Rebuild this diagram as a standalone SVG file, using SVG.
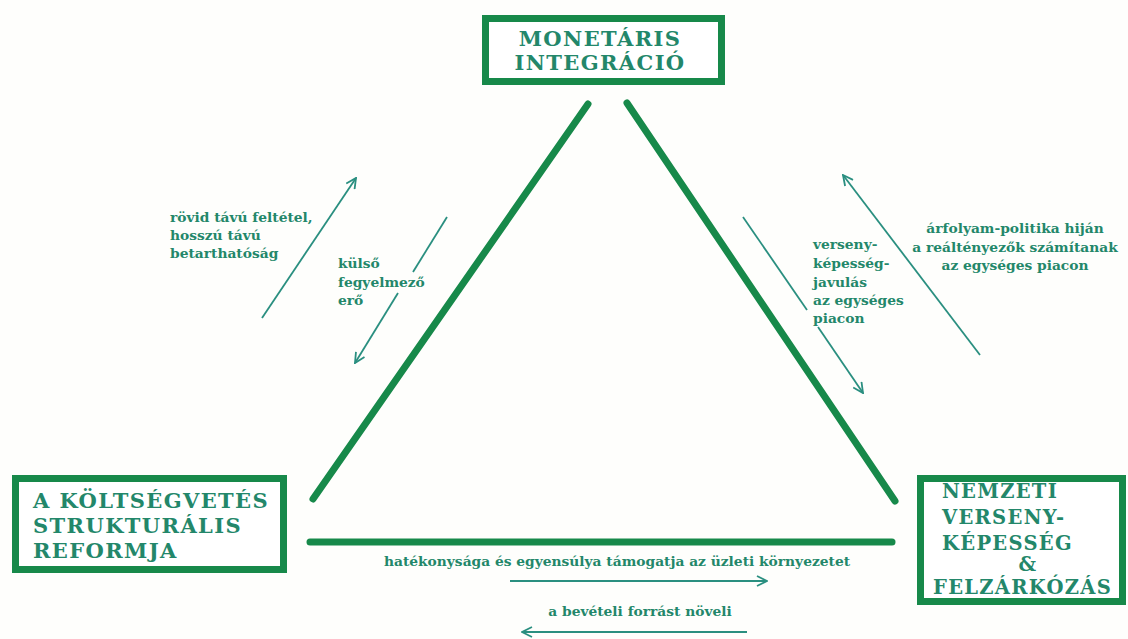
<svg xmlns="http://www.w3.org/2000/svg" width="1128" height="639" viewBox="0 0 1128 639">
<defs>
<style>
.box{fill:#fff;stroke:#17894a;stroke-width:7}
.big{stroke:#17894a;stroke-width:7;stroke-linecap:round;fill:none}
.thin{stroke:#2a8f80;stroke-width:1.8;fill:none}
.bt{font-family:"DejaVu Serif","Liberation Serif",serif;font-weight:bold;fill:#23876a;font-size:21px;letter-spacing:1.4px}
.rt{font-size:19.5px;letter-spacing:1.3px}
.st{font-family:"DejaVu Serif","Liberation Serif",serif;font-weight:bold;fill:#23876a;font-size:13.8px}
</style>
<marker id="ah" viewBox="0 0 12 12" refX="11" refY="6" markerWidth="12" markerHeight="12" markerUnits="userSpaceOnUse" orient="auto">
<path d="M1,1 L11,6 L1,11" fill="none" stroke="#2a8f80" stroke-width="1.8"/>
</marker>
</defs>
<rect width="1128" height="639" fill="#fefefc"/>
<g id="connectors">
<line class="big" x1="313" y1="499" x2="588" y2="104"/>
<line class="big" x1="627" y1="103" x2="895" y2="501"/>
<line class="big" x1="310" y1="542" x2="892" y2="542"/>
<line class="thin" x1="262" y1="318" x2="356" y2="178" marker-end="url(#ah)"/>
<line class="thin" x1="447" y1="217" x2="413" y2="272"/>
<line class="thin" x1="398" y1="293" x2="355" y2="363" marker-end="url(#ah)"/>
<line class="thin" x1="743" y1="217" x2="807" y2="310"/>
<line class="thin" x1="818" y1="327" x2="863" y2="393" marker-end="url(#ah)"/>
<line class="thin" x1="980" y1="355" x2="843" y2="175" marker-end="url(#ah)"/>
<line class="thin" x1="510" y1="581" x2="767" y2="581" marker-end="url(#ah)"/>
<line class="thin" x1="747" y1="632" x2="522" y2="632" marker-end="url(#ah)"/>
</g>
<g id="monetaris">
<rect class="box" x="485.5" y="18.5" width="236" height="63"/>
<text class="bt" x="600" y="46" text-anchor="middle">MONETÁRIS</text>
<text class="bt" x="600" y="70" text-anchor="middle">INTEGRÁCIÓ</text>
</g>
<g id="koltsegvetes">
<rect class="box" x="15.5" y="478.5" width="268" height="91"/>
<text class="bt" x="33" y="508">A KÖLTSÉGVETÉS</text>
<text class="bt" x="33" y="533">STRUKTURÁLIS</text>
<text class="bt" x="33" y="558">REFORMJA</text>
</g>
<g id="nemzeti">
<rect class="box" x="920.5" y="478.5" width="202" height="123"/>
<text class="bt rt" x="942" y="498">NEMZETI</text>
<text class="bt rt" x="942" y="524">VERSENY-</text>
<text class="bt rt" x="942" y="550">KÉPESSÉG</text>
<text class="bt rt" x="1028" y="571" text-anchor="middle">&amp;</text>
<text class="bt rt" x="933" y="594">FELZÁRKÓZÁS</text>
</g>
<g id="labels">
<text class="st" x="170" y="222">rövid távú feltétel,</text>
<text class="st" x="170" y="240">hosszú távú</text>
<text class="st" x="170" y="258">betarthatóság</text>
<text class="st" x="338" y="268">külső</text>
<text class="st" x="338" y="287">fegyelmező</text>
<text class="st" x="338" y="305">erő</text>
<text class="st" x="813" y="249">verseny-</text>
<text class="st" x="813" y="268">képesség-</text>
<text class="st" x="813" y="287">javulás</text>
<text class="st" x="813" y="305">az egységes</text>
<text class="st" x="813" y="323">piacon</text>
<text class="st" x="1015" y="233" text-anchor="middle">árfolyam-politika hiján</text>
<text class="st" x="1015" y="252" text-anchor="middle">a reáltényezők számítanak</text>
<text class="st" x="1015" y="270" text-anchor="middle">az egységes piacon</text>
<text class="st" x="617" y="566" text-anchor="middle">hatékonysága és egyensúlya támogatja az üzleti környezetet</text>
<text class="st" x="640" y="616" text-anchor="middle">a bevételi forrást növeli</text>
</g>
</svg>
